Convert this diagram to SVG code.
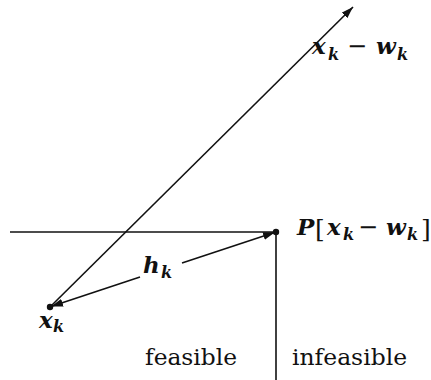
<svg xmlns="http://www.w3.org/2000/svg" width="431" height="380" viewBox="0 0 431 380">
<defs>
<style>
.ln{stroke:#111;stroke-width:1.6;fill:none}
.m{font-family:'DejaVu Serif',serif;font-style:italic;font-weight:bold;font-size:23px;fill:#111}
.s{font-family:'DejaVu Serif',serif;font-style:italic;font-weight:bold;font-size:16px;fill:#111}
.r{font-family:'DejaVu Serif',serif;font-size:23px;fill:#111}
.br{font-family:'DejaVu Serif',serif;font-size:25px;fill:#111}
.op{font-family:'DejaVu Serif',serif;font-size:24px;fill:#111}
</style>
<marker id="ah" viewBox="0 0 12 8" refX="12" refY="4" markerWidth="12" markerHeight="8" markerUnits="userSpaceOnUse" orient="auto">
<path d="M0,0 L12,4 L0,8 z" fill="#111"/>
</marker>
</defs>
<g id="connectors">
<line class="ln" x1="10" y1="232" x2="276" y2="232"/>
<line class="ln" x1="276" y1="232" x2="276" y2="380"/>
<line class="ln" x1="50" y1="307" x2="353" y2="7" marker-end="url(#ah)"/>
<line class="ln" x1="140" y1="277" x2="51" y2="306.5" marker-end="url(#ah)"/>
<line class="ln" x1="182" y1="263" x2="275" y2="232.3" marker-end="url(#ah)"/>
</g>
<g id="node-xk">
<circle cx="50" cy="307" r="3.2" fill="#111"/>
<text class="m" x="39" y="328">x</text><text class="s" x="53" y="332">k</text>
</g>
<g id="node-P">
<circle cx="276" cy="232" r="3.2" fill="#111"/>
<text class="m" x="297" y="235">P</text>
<text class="br" x="315" y="237">[</text>
<text class="m" x="327" y="235">x</text><text class="s" x="343" y="240">k</text>
<text class="op" x="358" y="235">−</text>
<text class="m" x="386" y="235">w</text><text class="s" x="407" y="240">k</text>
<text class="br" x="421" y="237">]</text>
</g>
<g id="node-xw">
<text class="m" x="312" y="54">x</text><text class="s" x="328" y="60">k</text>
<text class="op" x="347" y="54">−</text>
<text class="m" x="376" y="54">w</text><text class="s" x="397" y="60">k</text>
</g>
<g id="label-hk">
<text class="m" x="143" y="273">h</text><text class="s" x="161" y="278">k</text>
</g>
<g id="label-feasible">
<text class="r" x="145" y="365" textLength="92" lengthAdjust="spacingAndGlyphs">feasible</text>
</g>
<g id="label-infeasible">
<text class="r" x="292" y="365" textLength="115" lengthAdjust="spacingAndGlyphs">infeasible</text>
</g>
</svg>
